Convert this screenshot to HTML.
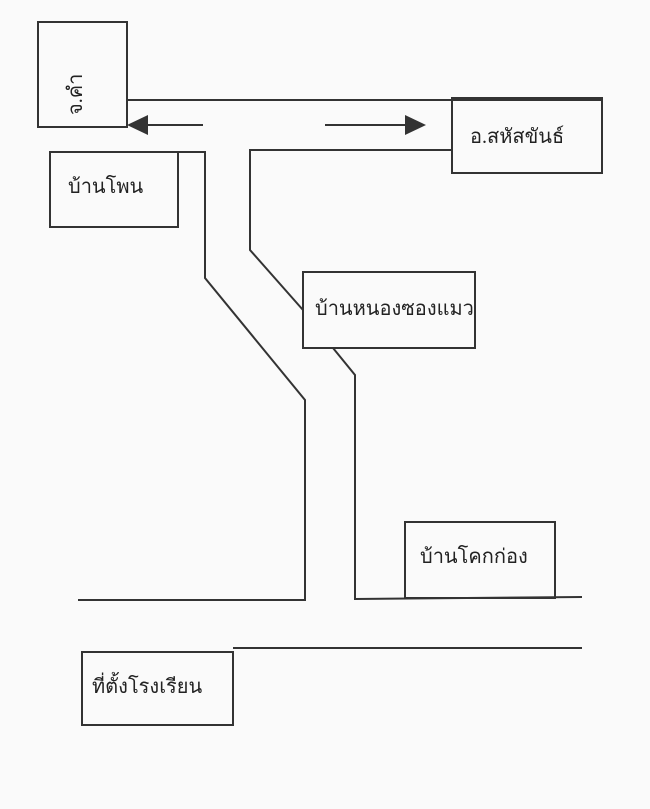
<!DOCTYPE html>
<html><head><meta charset="utf-8"><style>
html,body{margin:0;padding:0;background:#fafafa;}
svg{display:block}
text{font-family:"Liberation Serif","Noto Serif CJK SC","Noto Sans CJK SC",serif;font-size:20px;fill:#222}
</style></head><body>
<svg width="650" height="809" viewBox="0 0 650 809" xmlns="http://www.w3.org/2000/svg">
<rect width="650" height="809" fill="#fafafa"/>
<g fill="none" stroke="#333" stroke-width="2">
<rect x="38" y="22" width="89" height="105"/>
<line x1="127" y1="100" x2="602" y2="100"/>
<rect x="452" y="98" width="150" height="75"/>
<rect x="50" y="152" width="128" height="75"/>
<polyline points="178,152 205,152 205,278 305,400 305,600 78,600"/>
<polyline points="452,150 250,150 250,250 303,310"/>
<rect x="303" y="272" width="172" height="76"/>
<polyline points="333,348 355,375 355,599 582,597"/>
<rect x="405" y="522" width="150" height="76"/>
<line x1="233" y1="648" x2="582" y2="648"/>
<rect x="82" y="652" width="151" height="73"/>
<line x1="148" y1="125" x2="203" y2="125"/>
<line x1="325" y1="125" x2="405" y2="125"/>
</g>
<polygon points="127,125 148,115 148,135" fill="#333"/>
<polygon points="426,125 405,115 405,135" fill="#333"/>
<text x="0" y="0" transform="translate(82,115) rotate(-90)">จ.คำ</text>
<text x="470" y="143">อ.สหัสขันธ์</text>
<text x="68" y="193">บ้านโพน</text>
<text x="315" y="315">บ้านหนองซองแมว</text>
<text x="420" y="563">บ้านโคกก่อง</text>
<text x="92" y="693">ที่ตั้งโรงเรียน</text>
</svg>
</body></html>
